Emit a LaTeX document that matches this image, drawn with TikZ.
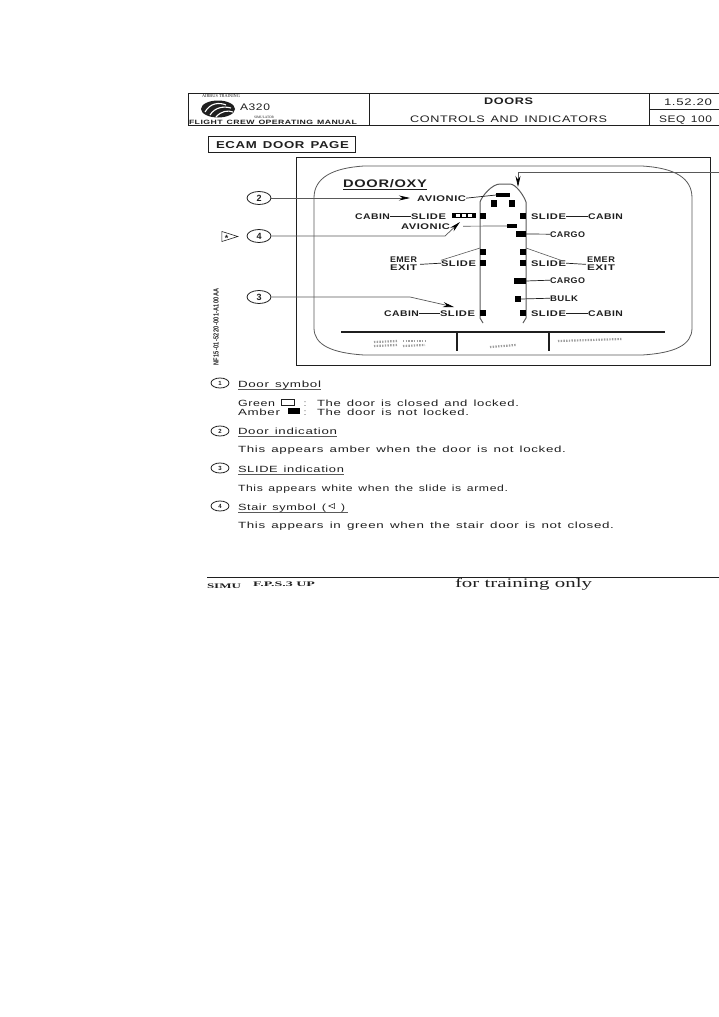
\documentclass[tikz,border=0pt]{standalone}
\usepackage{fontspec}
\usepackage{graphicx}
\setmainfont[LetterSpace=5,WordSpace=1.4]{Liberation Sans}
\newfontfamily\serifface{Liberation Serif}
\usetikzlibrary{arrows.meta,shapes.geometric}
\definecolor{ink}{gray}{0.12}
\definecolor{soft}{gray}{0.35}
\newsavebox\fitbox
\newcommand{\fitinner}[3]{%
  \sbox\fitbox{#2#3}%
  \pgfmathsetmacro\fitr{(#1)/\the\wd\fitbox}%
  \scalebox{\fitr}[1]{\usebox\fitbox}}
% name, x0, x1, baseline y, font, text
\newcommand{\fitlab}[6]{%
  \node[fittext] (#1) at (#2,#4) {\fitinner{#3-#2}{#5}{#6}};}
% name, x0, y0, x1, y1
\newcommand{\doorbox}[5]{%
  \node[doorfill,minimum width={#4-#2},minimum height={#5-#3}] (#1) at ({(#2+#4)/2},{(#3+#5)/2}) {};}
\tikzset{
  fittext/.style={inner sep=0pt,outer sep=0pt,anchor=base west,text=ink},
  doorfill/.style={fill=black,draw=none,inner sep=0pt,outer sep=0pt},
  rule/.style={draw=ink,line width=0.9pt},
  thinrule/.style={draw=soft,line width=0.7pt},
  leader/.style={draw=ink,line width=0.7pt},
  wire/.style={draw=soft,line width=1pt},
  wirearrow/.style={draw=soft,line width=0.7pt,-{Stealth[length=11pt,width=5pt,black]}},
  callout/.style={ellipse,draw=ink,line width=0.8pt,minimum width=24pt,minimum height=13pt,inner sep=0pt,font=\bfseries\fontsize{9}{9}\selectfont,text=ink},
  smallcallout/.style={ellipse,draw=ink,line width=0.8pt,minimum width=18pt,minimum height=10pt,inner sep=0pt,font=\bfseries\fontsize{6}{6}\selectfont,text=ink},
  garble/.style={draw=gray!75,line width=2.2pt,dash pattern=on 1.4pt off 1.3pt},
  whitecell/.style={fill=white,minimum width=4pt,minimum height=3pt,inner sep=0pt}
}
\begin{document}
\begin{tikzpicture}[x=1pt,y=-1pt]
\useasboundingbox (0,0) rectangle (719,1017);
\def\lblfont{\bfseries\fontsize{8.2}{8.2}\selectfont}
\def\bodyfont{\fontsize{9}{10}\selectfont}
% header
\draw[rule] (719,93) -- (188,93) -- (188,125) -- (719,125);
\draw[rule] (369,93) -- (369,125);
\draw[rule] (649,93) -- (649,125);
\draw[rule] (649,109) -- (719,109);
\fitlab{hair}{202}{240}{97.5}{\serifface\fontsize{4.5}{5}\selectfont}{AIRBUS TRAINING}
\fitlab{ha}{240}{270}{110}{\fontsize{9.5}{10}\selectfont}{A320}
\fitlab{hsim}{254}{274}{118.5}{\serifface\fontsize{3.5}{4}\selectfont}{SIMULATOR}
\fitlab{hfc}{189}{357}{124.3}{\bfseries\fontsize{6.2}{7}\selectfont}{FLIGHT CREW OPERATING MANUAL}
\fitlab{hd}{484}{533}{104}{\bfseries\fontsize{9.5}{10}\selectfont}{DOORS}
\fitlab{hc}{410}{607}{122}{\fontsize{9.5}{10}\selectfont}{CONTROLS AND INDICATORS}
\fitlab{hn}{664}{712}{105}{\fontsize{9.5}{10}\selectfont}{1.52.20}
\fitlab{hs}{659}{712}{122}{\fontsize{9.5}{10}\selectfont}{SEQ 100}
% logo
\fill[ink] (218,109) ellipse[x radius=17,y radius=8.5];
\draw[white,line width=1.1pt] (205,112) .. controls (210,103) and (219,102) .. (226,105);
\draw[white,line width=1.1pt] (210,115) .. controls (215,107) and (224,106) .. (231,108);
\draw[white,line width=1.1pt] (216,117) .. controls (221,111) and (228,110) .. (233,112);
% section title
\node[draw=ink,line width=0.8pt,minimum width=147pt,minimum height=16pt,inner sep=0pt] (ecambox) at (281.5,144) {};
\fitlab{ecam}{216}{349}{148}{\bfseries\fontsize{10}{10}\selectfont}{ECAM DOOR PAGE}
% frame
\draw[rule] (296,157) rectangle (710,365);
% screen
\draw[wire,line width=0.8pt] (364,166) -- (642,166) .. controls (675,168) and (692,178) .. (692,198)
  -- (692,328) .. controls (692,345) and (675,353) .. (642,355)
  -- (364,355) .. controls (332,353) and (314,345) .. (314,328)
  -- (314,198) .. controls (314,178) and (332,168) .. (364,166);
\fitlab{title}{343}{427}{187.5}{\bfseries\fontsize{11}{11}\selectfont}{DOOR/OXY}
\draw[rule] (343,189.5) -- (427,189.5);
% fuselage
\draw[wire] (483,323) -- (480,318) -- (480,202) .. controls (482,196) and (492,184) .. (500,184)
  -- (510,184) .. controls (516,184) and (524,196) .. (526,202) -- (526,318) -- (523,323);
% doors
\doorbox{dnose}{496}{193}{510}{197}
\doorbox{dal}{491}{200}{497}{207}
\doorbox{dar}{509}{200}{515}{207}
\doorbox{dfl}{480}{213}{486}{219}
\doorbox{dfr}{520}{213}{526}{219}
\doorbox{dslide}{452}{213}{476}{218}
\node[whitecell] (w1) at (458,215.5) {};
\node[whitecell] (w2) at (464,215.5) {};
\node[whitecell] (w3) at (470,215.5) {};
\doorbox{dav}{507}{224}{517}{228}
\doorbox{dcf}{516}{231}{526}{237}
\doorbox{de1l}{480}{249}{486}{255}
\doorbox{de1r}{520}{249}{526}{255}
\doorbox{de2l}{480}{260}{486}{266}
\doorbox{de2r}{520}{260}{526}{266}
\doorbox{dca}{514}{278}{526}{284}
\doorbox{dbu}{515}{296}{521}{302}
\doorbox{dal2}{480}{310}{486}{316}
\doorbox{dar2}{520}{310}{526}{316}
% labels
\fitlab{av1}{417}{466}{201}{\lblfont}{AVIONIC}
\fitlab{cabL}{355}{390}{219}{\lblfont}{CABIN}
\fitlab{slL}{411}{446}{219}{\lblfont}{SLIDE}
\fitlab{av2}{401}{450}{229}{\lblfont}{AVIONIC}
\fitlab{slR}{531}{566}{219}{\lblfont}{SLIDE}
\fitlab{cabR}{588}{623}{219}{\lblfont}{CABIN}
\fitlab{cg1}{550}{585}{237}{\lblfont}{CARGO}
\fitlab{emL}{390}{417}{262}{\lblfont}{EMER}
\fitlab{exL}{390}{417}{270}{\lblfont}{EXIT}
\fitlab{sl2L}{441}{476}{266}{\lblfont}{SLIDE}
\fitlab{sl2R}{531}{566}{266}{\lblfont}{SLIDE}
\fitlab{emR}{587}{615}{262}{\lblfont}{EMER}
\fitlab{exR}{587}{615}{270}{\lblfont}{EXIT}
\fitlab{cg2}{550}{585}{283}{\lblfont}{CARGO}
\fitlab{bk}{550}{578}{301}{\lblfont}{BULK}
\fitlab{cab3L}{384}{419}{316}{\lblfont}{CABIN}
\fitlab{sl3L}{440}{475}{316}{\lblfont}{SLIDE}
\fitlab{sl3R}{531}{566}{316}{\lblfont}{SLIDE}
\fitlab{cab3R}{588}{623}{316}{\lblfont}{CABIN}
% leaders
\draw[leader] (av1.east) -- (dnose.west);
\draw[leader] (cabL.east) -- (slL.west);
\draw[leader,soft] ([xshift=13pt]av2.east) -- (dav.west);
\draw[leader] (slR.east) -- (cabR.west);
\draw[leader] (dcf.east) -- (cg1.west);
\draw[leader] ([xshift=3pt]exL.north east) -- (sl2L.west);
\coordinate (lnk1) at (480,248);
\coordinate (lnk2) at (526,248);
\coordinate (lnk3) at (563,261);
\draw[wire,line width=0.6pt] (sl2L.north west) -- (lnk1);
\draw[wire,line width=0.6pt] (lnk2) -- (lnk3);
\draw[leader] (sl2R.east) -- ([xshift=-1pt]exR.north west);
\draw[leader] (dca.east) -- (cg2.west);
\draw[leader] (dbu.east) -- (bk.west);
\draw[leader] (cab3L.east) -- (sl3L.west);
\draw[leader] (sl3R.east) -- (cab3R.west);
% status area
\coordinate (sb1) at (341,332);
\coordinate (sb2) at (665,332);
\coordinate (t1) at (457,332);
\coordinate (t2) at (549,332);
\draw[line width=1.3pt,ink] (sb1) -- (sb2);
\draw[line width=1.6pt,ink] (t1) -- ++(0,19);
\draw[line width=1.6pt,ink] (t2) -- ++(0,19);
\draw[garble] (374,342) -- (398,341);
\draw[garble] (374,346) -- (398,345);
\draw[garble] (403,341) -- (425,341);
\draw[garble] (403,346) -- (425,345);
\draw[garble] (490,347) -- (516,345);
\draw[garble] (558,341) -- (622,339);
% callouts
\node[callout] (c2) at (259,198) {2};
\node[callout] (c4) at (259,236) {4};
\node[callout] (c3) at (259,297) {3};
\coordinate (a2) at (410,198);
\coordinate (b4) at (445,236);
\coordinate (a4) at (460,222);
\coordinate (b3) at (410,297);
\coordinate (a3) at (454,307);
\coordinate (f1) at (719,172);
\coordinate (b1) at (518,172);
\coordinate (a1) at (518,187);
\draw[wirearrow] (c2) -- (a2);
\draw[wirearrow] (c4) -- (b4) -- (a4);
\draw[wirearrow] (c3) -- (b3) -- (a3);
\draw[wirearrow] (f1) -- (b1) -- (a1);
% star flag
\node[draw=ink,line width=0.6pt,isosceles triangle,isosceles triangle apex angle=35,inner sep=0pt,minimum height=16pt,minimum width=9pt] (flag) at (225.5,236.5) {};
\node[inner sep=0pt,font=\bfseries\fontsize{9}{9}\selectfont,text=ink] (star) at (226.5,238.5) {*};
% vertical reference
\node[inner sep=0pt,rotate=90,text=ink] (ref) at (216,327) {\fitinner{77}{\bfseries\fontsize{7.4}{8}\selectfont}{NF15-01-5220-001-A100AA}};
% legend
\node[smallcallout] (n1) at (220,383) {1};
\fitlab{t1l}{238}{321}{387}{\bodyfont}{Door symbol}
\draw[thinrule] (238,389.5) -- (321,389.5);
\fitlab{gr}{238}{275}{406}{\bodyfont}{Green}
\node[draw=ink,line width=0.6pt,minimum width=13pt,minimum height=6pt,inner sep=0pt] (gs) at (288,402) {};
\fitlab{grc}{304}{306}{406}{\bodyfont}{:}
\fitlab{grt}{317}{519}{406}{\bodyfont}{The door is closed and locked.}
\fitlab{am}{238}{280}{415}{\bodyfont}{Amber}
\doorbox{as}{288}{408}{300}{414}
\fitlab{amc}{304}{306}{415}{\bodyfont}{:}
\fitlab{amt}{317}{469}{415}{\bodyfont}{The door is not locked.}
\node[smallcallout] (n2) at (220,431) {2};
\fitlab{t2l}{238}{337}{434.5}{\bodyfont}{Door indication}
\draw[thinrule] (238,436.5) -- (337,436.5);
\fitlab{t2t}{238}{566}{452.5}{\bodyfont}{This appears amber when the door is not locked.}
\node[smallcallout] (n3) at (220,468) {3};
\fitlab{t3l}{238}{344}{472}{\bodyfont}{SLIDE indication}
\draw[thinrule] (238,474.5) -- (344,474.5);
\fitlab{t3t}{238}{508}{491}{\bodyfont}{This appears white when the slide is armed.}
\node[smallcallout] (n4) at (220,506) {4};
\fitlab{t4l}{238}{326}{510}{\bodyfont}{Stair symbol (}
\node[draw=ink,line width=0.5pt,isosceles triangle,shape border rotate=180,inner sep=0pt,minimum height=6pt,minimum width=4pt] (st) at (333,506) {};
\fitlab{t4r}{341}{345}{510}{\bodyfont}{)}
\draw[thinrule] (238,512) -- (348,512);
\fitlab{t4t}{238}{614}{528}{\bodyfont}{This appears in green when the stair door is not closed.}
% footer
\draw[rule] (207,577) -- (719,577);
\fitlab{fs}{207}{241}{588}{\serifface\bfseries\fontsize{7}{8}\selectfont}{SIMU}
\fitlab{ff}{253}{315}{586}{\serifface\bfseries\fontsize{7}{8}\selectfont}{F.P.S.3 UP}
\fitlab{fo}{455}{592}{587}{\serifface\fontsize{13}{14}\selectfont}{for training only}
\end{tikzpicture}
\end{document}
